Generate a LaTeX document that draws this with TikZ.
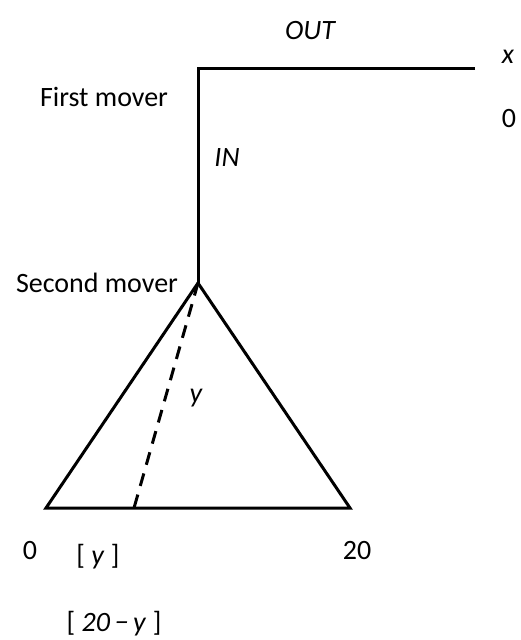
\documentclass[tikz,border=0pt]{standalone}
\usepackage{fontspec}
\setmainfont{Carlito}
\begin{document}
\begin{tikzpicture}[x=1pt,y=-1pt,
  edge/.style={line width=3pt},
  lbl/.style={font=\fontsize{28}{32}\selectfont, inner sep=0pt},
  ilbl/.style={lbl, font=\fontsize{28}{32}\selectfont\itshape}]
\useasboundingbox (0,0) rectangle (520,640);
\coordinate (n1) at (198,68);
\coordinate (xend) at (475,68);
\coordinate (n2) at (198,283);
\coordinate (bl) at (46,508);
\coordinate (br) at (350,508);
\coordinate (dy) at (134,508);
\draw[edge, line join=miter] (xend) -- (n1) -- (n2);
\draw[edge, line join=miter] (n2) -- (bl) -- (br) -- cycle;
\draw[edge, dash pattern=on 13pt off 9pt] (n2) -- (dy);
\node[ilbl] (out) at (310,31) {OUT};
\node[ilbl] (xl) at (508,57) {x};
\node[lbl] (z1) at (509,119) {0};
\node[lbl] (fm) at (104,97) {First mover};
\node[ilbl] (in) at (227,158) {IN};
\node[lbl] (sm) at (97,283) {Second mover};
\node[ilbl] (yl) at (196,398) {y};
\node[lbl] (z2) at (30,551) {0};
\node[lbl] (t20) at (357,551) {20};
\node[lbl] (by) at (98,557) {[ \textit{y} ]};
\node[lbl] (bty) at (114,624) {[ \textit{20\,−\,y} ]};
\end{tikzpicture}
\end{document}
